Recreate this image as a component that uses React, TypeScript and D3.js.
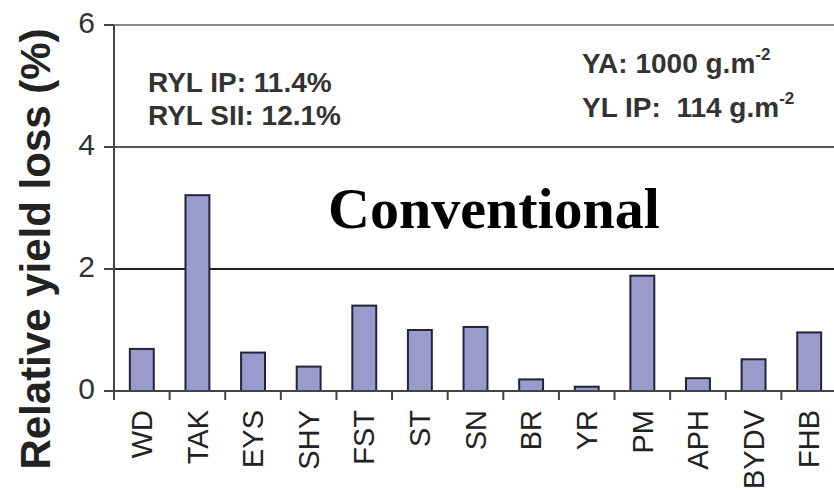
import React from 'react';
import * as d3 from 'd3';

const categories = ['WD', 'TAK', 'EYS', 'SHY', 'FST', 'ST', 'SN', 'BR', 'YR', 'PM', 'APH', 'BYDV', 'FHB'];
const values = [0.69, 3.21, 0.63, 0.4, 1.4, 1.0, 1.05, 0.19, 0.07, 1.89, 0.21, 0.52, 0.96];
const yTicks = [0, 2, 4, 6];

const W = 834, H = 491;
const left = 114, right = 837, top = 25, bottom = 391;

export default function App() {
    const x = d3.scaleBand<string>()
        .domain(categories)
        .range([left, right])
        .paddingInner(0.57)
        .paddingOuter(0.285);
    const y = d3.scaleLinear().domain([0, 6]).range([bottom, top]);
    const step = x.step();
    const font = 'Arial, "Liberation Sans", sans-serif';

    return (
        <svg width={W} height={H} style={{ position: 'absolute', left: 0, top: 0, background: '#fff' }}>
            {/* gridlines */}
            {yTicks.filter(t => t > 0).map(t => (
                <line key={t} x1={left} x2={W} y1={y(t)} y2={y(t)}
                    stroke={t === 2 ? '#222' : t === 6 ? '#888' : '#555'} strokeWidth={2} />
            ))}
            {/* bars */}
            {values.map((v, i) => (
                <rect key={categories[i]} x={x(categories[i])} y={y(v)} width={x.bandwidth()}
                    height={y(0) - y(v)} fill="#9b9bcb" stroke="#23233f" strokeWidth={2} />
            ))}
            {/* x axis */}
            <line x1={left} x2={W} y1={y(0)} y2={y(0)} stroke="#444" strokeWidth={2} />
            {d3.range(categories.length + 1).map(i => (
                <line key={i} x1={left + i * step} x2={left + i * step} y1={y(0)} y2={y(0) + 9}
                    stroke="#444" strokeWidth={2} />
            ))}
            {/* y axis */}
            <line x1={left} x2={left} y1={top} y2={y(0) + 9} stroke="#444" strokeWidth={2} />
            {yTicks.map(t => (
                <g key={t}>
                    <line x1={left - 10} x2={left} y1={y(t)} y2={y(t)} stroke="#444" strokeWidth={2} />
                    <text x={left - 19} y={y(t)} dy="0.25em" textAnchor="end" fontFamily={font}
                        fontSize={30} fill="#333">{t}</text>
                </g>
            ))}
            {/* x labels */}
            {categories.map(c => {
                const cx = (x(c) as number) + x.bandwidth() / 2;
                return (
                    <text key={c} transform={`translate(${cx},410) rotate(-90)`} dy="0.35em"
                        textAnchor="end" fontFamily={font} fontSize={29} fill="#222">{c}</text>
                );
            })}
            {/* y title */}
            <text transform="translate(50,249) rotate(-90)" textAnchor="middle" fontFamily={font}
                fontWeight="bold" fontSize={42} fill="#222">Relative yield loss (%)</text>
            {/* annotations */}
            <g fontFamily={font} fontWeight="bold" fontSize={28} fill="#333">
                <text x={148} y={92}>RYL IP: 11.4%</text>
                <text x={148} y={125}>RYL SII: 12.1%</text>
                <text x={582} y={73}>YA: 1000 g.m<tspan fontSize={17} dy={-13}>-2</tspan></text>
                <text x={582} y={117}>{'YL IP:\u00a0\u00a0114 g.m'}<tspan fontSize={17} dy={-13}>-2</tspan></text>
            </g>
            <text x={328} y={228} fontFamily='"Times New Roman", "Liberation Serif", serif'
                fontWeight="bold" fontSize={58} fill="#000">Conventional</text>
        </svg>
    );
}
